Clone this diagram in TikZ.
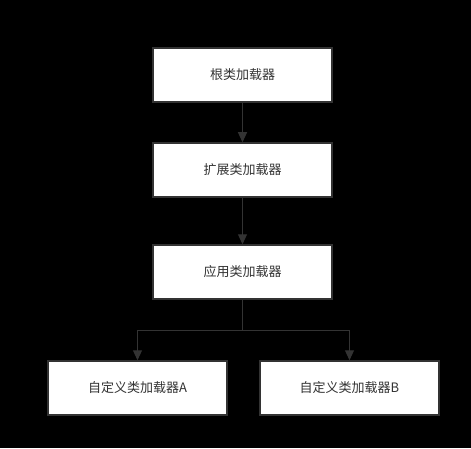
\documentclass[tikz,border=0pt]{standalone}
\usepackage{fontspec}
\newfontfamily\cjk{Noto Sans CJK SC}
\usetikzlibrary{arrows.meta}
\definecolor{linegray}{HTML}{333333}
\tikzset{
  loader/.style={draw=linegray, line width=1.5pt, fill=white, minimum width=179pt,
    minimum height=54pt, inner sep=0pt, font=\cjk\fontsize{13}{15}\selectfont, text=linegray},
  link/.style={draw=linegray, line width=1pt, -{Triangle[length=10pt,width=9pt]}}
}
\begin{document}
\begin{tikzpicture}[x=1pt,y=1pt]
\useasboundingbox[fill=black] (0,0) rectangle (471,448);
\node[loader] (root) at (242.5,373) {根类加载器};
\node[loader] (ext) at (242.5,278) {扩展类加载器};
\node[loader] (app) at (242.5,176) {应用类加载器};
\node[loader] (custA) at (137.5,60) {自定义类加载器A};
\node[loader] (custB) at (349.5,60) {自定义类加载器B};
\coordinate (split) at (242.5,118);
\draw[link] (root) -- (ext);
\draw[link] (ext) -- (app);
\draw[draw=linegray, line width=1pt] (app) -- (split);
\draw[link] (split) -| (custA);
\draw[link] (split) -| (custB);
\end{tikzpicture}
\end{document}
